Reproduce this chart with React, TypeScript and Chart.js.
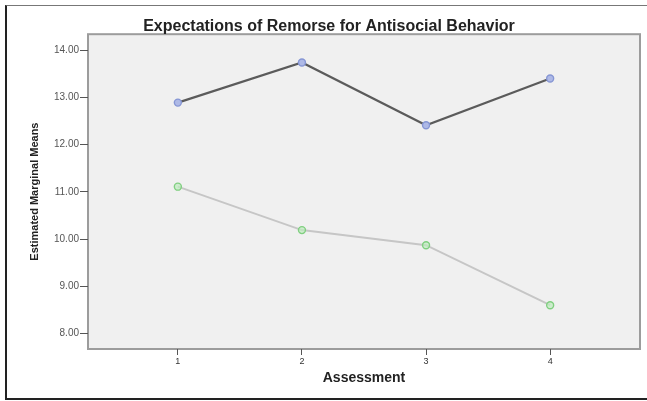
import React, { useEffect, useRef } from "react";
import { Chart, registerables } from "chart.js";

Chart.register(...registerables);

const titleText = "Expectations of Remorse for Antisocial Behavior";
const xTitle = "Assessment";
const yTitle = "Estimated Marginal Means";
const assessments = [1, 2, 3, 4];
const seriesA = [12.89, 13.74, 12.41, 13.4];
const seriesB = [11.11, 10.19, 9.87, 8.6];
const yTicks = [8, 9, 10, 11, 12, 13, 14];

const framePlugin = {
  id: "frame",
  beforeDraw(chart: any) {
    const { ctx, chartArea } = chart;
    const { left, top, right, bottom } = chartArea;
    ctx.save();
    ctx.fillStyle = "#f0f0f0";
    ctx.fillRect(left, top, right - left, bottom - top);
    ctx.strokeStyle = "#9c9c9c";
    ctx.lineWidth = 2;
    ctx.strokeRect(left, top, right - left, bottom - top);
    ctx.restore();
  },
};

export default function App() {
  const ref = useRef<HTMLCanvasElement>(null);
  useEffect(() => {
    if (!ref.current) return;
    const data = {
      datasets: [
        {
          label: "A",
          data: assessments.map((x, i) => ({ x, y: seriesA[i] })),
          borderColor: "#5b5b5b",
          borderWidth: 2.2,
          pointRadius: 3.5,
          pointBorderWidth: 1.4,
          pointBackgroundColor: "#aeb9e6",
          pointBorderColor: "#8696d4",
          tension: 0,
        },
        {
          label: "B",
          data: assessments.map((x, i) => ({ x, y: seriesB[i] })),
          borderColor: "#c6c6c6",
          borderWidth: 2,
          pointRadius: 3.5,
          pointBorderWidth: 1.4,
          pointBackgroundColor: "rgba(190,235,190,0.7)",
          pointBorderColor: "#80cf80",
          tension: 0,
        },
      ],
    };
    const chart = new Chart(ref.current, {
      type: "line",
      data: data as any,
      plugins: [framePlugin],
      options: {
        animation: false,
        responsive: false,
        layout: { padding: { left: 18, right: 7, top: 0, bottom: 0 } },
        plugins: {
          legend: { display: false },
          tooltip: { enabled: false },
          title: {
            display: true,
            text: titleText,
            color: "#222",
            font: { family: "Liberation Sans, Arial", size: 16, weight: "bold" },
            padding: { top: 16.5, bottom: -1.5 },
          },
        },
        scales: {
          x: {
            type: "linear",
            min: 0.276,
            max: 4.724,
            afterBuildTicks: (s: any) => {
              s.ticks = assessments.map((v) => ({ value: v }));
            },
            afterFit: (s: any) => {
              s.height = 52;
            },
            grid: { drawOnChartArea: false, drawTicks: true, tickLength: 6, color: "#555", lineWidth: 1 },
            border: { display: false },
            ticks: {
              color: "#333",
              padding: 1,
              font: { family: "Liberation Sans, Arial", size: 9 },
              callback: (v: any) => String(v),
            },
            title: {
              display: true,
              text: xTitle,
              color: "#222",
              font: { family: "Liberation Sans, Arial", size: 14, weight: "bold" },
              padding: { top: 0, bottom: 14.6 },
            },
          },
          y: {
            min: 7.672,
            max: 14.339,
            afterBuildTicks: (s: any) => {
              s.ticks = yTicks.map((v) => ({ value: v }));
            },
            afterFit: (s: any) => {
              s.width = 70;
            },
            grid: { drawOnChartArea: false, drawTicks: true, tickLength: 8, color: "#555", lineWidth: 1 },
            border: { display: false },
            ticks: {
              color: "#555",
              padding: 1,
              font: { family: "Liberation Sans, Arial", size: 10 },
              callback: (v: any) => Number(v).toFixed(2),
            },
            title: {
              display: true,
              text: yTitle,
              color: "#222",
              font: { family: "Liberation Sans, Arial", size: 11, weight: "bold" },
              padding: { top: 10.4, bottom: 0 },
            },
          },
        },
      },
    });
    return () => chart.destroy();
  }, []);
  return (
    <div style={{ position: "fixed", left: 0, top: 0, width: 647, height: 401, background: "#fff" }}>
      <div
        style={{
          position: "absolute",
          left: 5,
          top: 5,
          width: 642,
          height: 392,
          borderLeft: "2px solid #222",
          borderTop: "1px solid #777",
          borderBottom: "2px solid #222",
          boxSizing: "content-box",
        }}
      />
      <canvas ref={ref} width={647} height={401} style={{ position: "absolute", left: 0, top: 0 }} />
    </div>
  );
}
